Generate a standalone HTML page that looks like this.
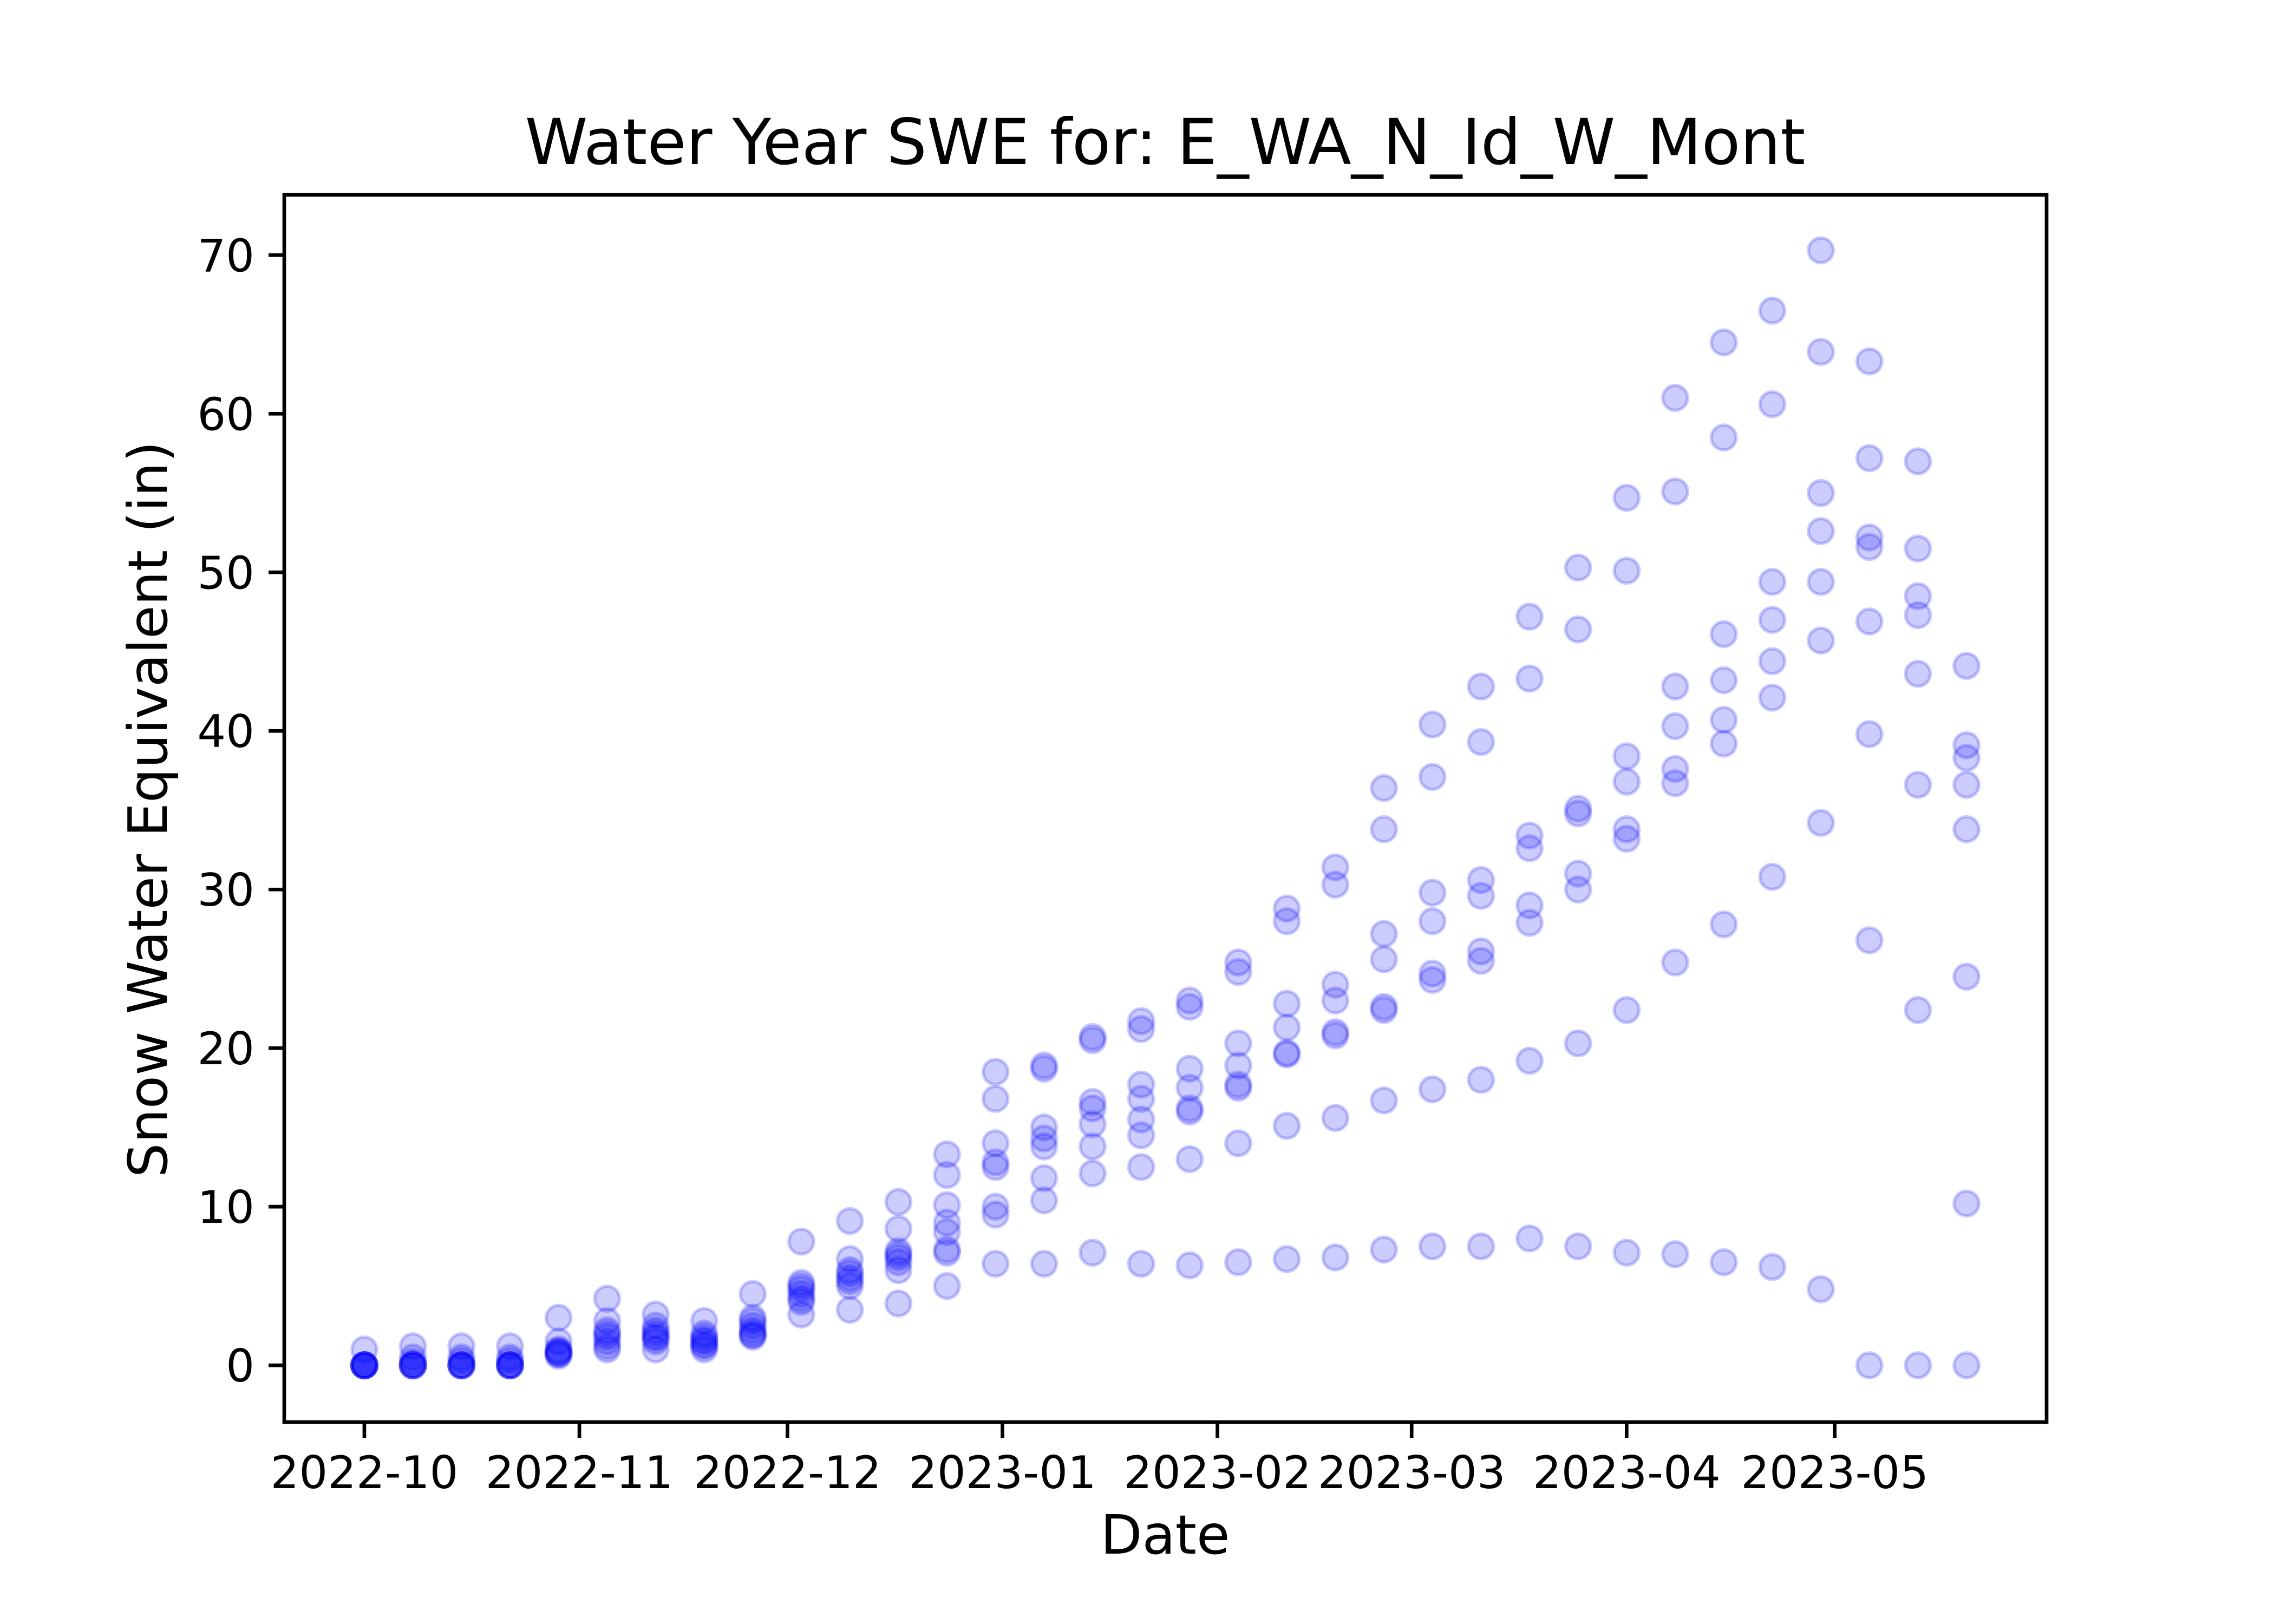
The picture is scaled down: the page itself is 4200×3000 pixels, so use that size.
<!DOCTYPE html>
<html><head><meta charset="utf-8"><style>html,body{margin:0;padding:0;background:#fff}svg{display:block}</style></head>
<body>
<svg id="chart" width="4200" height="3000" viewBox="0 0 4200 3000" xmlns="http://www.w3.org/2000/svg" font-family="'DejaVu Sans','Liberation Sans',sans-serif">
<rect width="4200" height="3000" fill="#fff"/>
<text x="2152" y="303" font-size="117" text-anchor="middle">Water Year SWE for: E_WA_N_Id_W_Mont</text>
<text x="2152" y="2870" font-size="100" text-anchor="middle">Date</text>
<text transform="translate(308,1495) rotate(-90)" font-size="100" text-anchor="middle">Snow Water Equivalent (in)</text>
<g id="marks"></g>
<g id="axes"></g>
</svg>
<script>
const dayOffsets = [0,7,14,21,28,35,42,49,56,63,70,77,84,91,98,105,112,119,126,133,140,147,154,161,168,175,182,189,196,203,210,217,224,231];
const sweValues = [
[0,0,0,0,0,0,0,1.0],[0,0,0,0,0,0.5,0.2,1.2],[0,0,0,0,0,0.5,0.3,1.2],[0,0,0,0,0,0.5,0.3,1.2],
[3.0,1.5,0.8,0.7,1.0,0.6,0.9,0.8],[4.2,2.8,2.0,1.5,1.0,2.2,1.8,1.2],[3.2,2.5,2.0,1.8,1.0,2.2,1.7,1.5],[2.8,1.8,1.5,1.0,2.0,1.3,1.6,1.2],
[4.5,3.0,2.5,2.0,1.8,2.2,2.8,1.9],[7.8,5.2,4.8,4.2,3.2,5.0,4.5,4.0],[9.1,6.7,5.8,5.3,5.0,3.5,5.5,6.0],[10.3,8.6,7.2,6.8,6.0,3.9,7.0,6.5],
[13.3,12.0,10.1,9.0,8.4,7.3,7.1,5.0],[18.5,16.8,14.0,12.8,12.5,10.0,9.5,6.4],[18.9,18.7,15.0,14.3,13.8,11.8,10.4,6.4],[20.7,20.5,16.6,16.2,15.2,13.8,12.1,7.1],
[21.7,21.2,17.7,16.8,15.5,14.5,12.5,6.4],[23.0,22.6,18.7,17.5,16.2,16.0,13.0,6.3],[25.4,24.8,20.3,18.9,17.7,17.5,14.0,6.5],[28.8,28.0,22.8,21.3,19.7,19.6,15.1,6.7],
[31.4,30.3,24.0,23.0,21.0,20.8,15.6,6.8],[36.4,33.8,27.2,25.6,22.6,22.4,16.7,7.3],[40.4,37.1,29.8,28.0,24.7,24.3,17.4,7.5],[42.8,39.3,30.6,29.6,26.1,25.5,18.0,7.5],
[47.2,43.3,33.4,32.6,29.0,27.9,19.2,8.0],[50.3,46.4,35.1,34.8,31.0,30.0,20.3,7.5],[54.7,50.1,38.4,36.8,33.8,33.2,22.4,7.1],[61.0,55.1,42.8,40.3,37.6,36.7,25.4,7.0],
[64.5,58.5,46.1,43.2,40.7,39.2,27.8,6.5],[66.5,60.6,49.4,47.0,44.4,42.1,30.8,6.2],[70.3,63.9,55.0,52.6,49.4,45.7,34.2,4.8],[63.3,57.2,52.2,51.6,46.9,39.8,26.8,0],
[57.0,51.5,48.5,47.3,43.6,36.6,22.4,0],[44.1,39.1,38.3,36.6,33.8,24.5,10.2,0]
];
const xTickDays = [0,31,61,92,123,151,182,212];
const xTickLabels = ["2022-10","2022-11","2022-12","2023-01","2023-02","2023-03","2023-04","2023-05"];
const yTickValues = [0,10,20,30,40,50,60,70];

const L=525,R=3780,T=360,B=2627;
const xMin=-11.55,xMax=242.55,yMin=-3.58,yMax=73.8;
function xs(d){return L+(d-xMin)/(xMax-xMin)*(R-L);}
function ys(v){return B-(v-yMin)/(yMax-yMin)*(B-T);}
const NS="http://www.w3.org/2000/svg";
function mk(t,a,p){const e=document.createElementNS(NS,t);for(const k in a)e.setAttribute(k,a[k]);p.appendChild(e);return e;}
const marks=document.getElementById('marks');
dayOffsets.forEach((d,i)=>{
  sweValues[i].forEach(v=>{
    const c=mk('circle',{cx:xs(d),cy:ys(v),r:23,fill:'rgba(0,0,255,0.2)',stroke:'rgba(0,0,255,0.2)','stroke-width':6},marks);
    
    
  });
});
const axes=document.getElementById('axes');
const frame=mk('rect',{x:L,y:T,width:R-L,height:B-T,fill:'none',stroke:'#000','stroke-width':6.7},axes);


xTickDays.forEach((d,i)=>{
  const x=xs(d);
  const t=mk('line',{x1:x,x2:x,y1:B,y2:B+29,stroke:'#000','stroke-width':6.7},axes);
  
  
  const lb=mk('text',{x:x,y:B+122,'font-size':83,'text-anchor':'middle'},axes);
  lb.textContent=xTickLabels[i];
  
  
});
yTickValues.forEach(v=>{
  const y=ys(v);
  const t=mk('line',{x1:L-29,x2:L,y1:y,y2:y,stroke:'#000','stroke-width':6.7},axes);
  
  
  const lb=mk('text',{x:L-55,y:y+30,'font-size':83,'text-anchor':'end'},axes);
  lb.textContent=String(v);
  
  
});
</script>
</body></html>
